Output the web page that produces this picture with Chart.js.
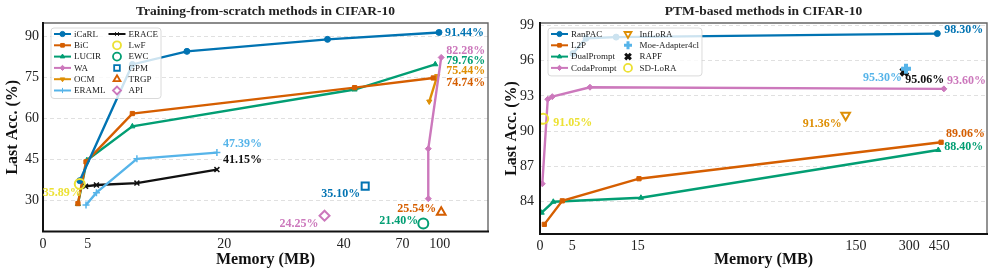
<!DOCTYPE html>
<html>
<head>
<meta charset="utf-8">
<script src="https://cdn.jsdelivr.net/npm/chart.js@4.4.1/dist/chart.umd.min.js"></script>
<style>
  body { margin: 0; background: #fff; }
  #wrap { position: relative; width: 997px; height: 277px; }
  canvas { position: absolute; top: 0; }
</style>
</head>
<body>
<div id="wrap">
  <canvas id="left" width="495" height="277" style="left:0"></canvas>
  <canvas id="right" width="502" height="277" style="left:495px"></canvas>
</div>
<script>
// tick labels
const xTicksL = [0, 5, 20, 40, 70, 100];
const yTicksL = [30, 45, 60, 75, 90];
const xTicksR = [0, 5, 15, 150, 300, 450];
const yTicksR = [84, 87, 90, 93, 96, 99];

// training-from-scratch methods: memory (MB) / last acc (%)
const icarlMem = [4.1, 9.9, 15.9, 37.3, 99.4];
const icarlAcc = [37.1, 79.7, 84.5, 88.9, 91.44];
const bicMem = [3.9, 4.8, 9.9, 45.6, 94.8];
const bicAcc = [28.7, 44.0, 61.7, 71.2, 74.74];
const lucirMem = [3.9, 4.9, 9.9, 45.6, 96.4];
const lucirAcc = [28.5, 44.6, 57.0, 70.5, 79.76];
const waMem = [90.8, 90.8, 101.2];
const waAcc = [30.5, 48.8, 82.28];
const ocmMem = [91.6, 98.0];
const ocmAcc = [66.1, 75.44];
const eramlMem = [4.8, 5.95, 10.4, 19.2];
const eramlAcc = [28.2, 32.7, 45.1, 47.39];
const eraceMem = [4.75, 5.95, 10.4, 19.2];
const eraceAcc = [35.0, 35.5, 36.2, 41.15];
const lwfMem = [4.1],   lwfAcc = [35.89];
const ewcMem = [86.8],  ewcAcc = [21.40];
const gpmMem = [51],    gpmAcc = [35.10];
const trgpMem = [101.2], trgpAcc = [25.54];
const apiMem = [36.8],  apiAcc = [24.25];

// PTM-based methods
const ranpacMem = [5.1, 7.1, 11.7, 440];
const ranpacAcc = [96.6, 97.9, 98.0, 98.30];
const l2pMem = [0.67, 3.45, 15.8, 459];
const l2pAcc = [82.08, 84.08, 85.96, 89.06];
const dualMem = [0.26, 2.06, 17, 445];
const dualAcc = [83.07, 84.0, 84.34, 88.40];
const codaMem = [0.36, 1.2, 1.9, 7.7, 473];
const codaAcc = [85.53, 92.72, 92.94, 93.74, 93.60];
const infloraMem = [143.6], infloraAcc = [91.36];
const moeMem = [290.7],     moeAcc = [95.30];
const rapfMem = [286],      rapfAcc = [95.06];
const sdloraMem = [0.5],    sdloraAcc = [91.05];

const serif = "'Liberation Serif', 'Times New Roman', serif";
const C = { blue: '#0173B2', verm: '#D55E00', green: '#029E73', pink: '#CC78BC',
            orange: '#DE8F05', light: '#56B4E9', black: '#111111', yellow: '#ECE133' };
Chart.defaults.font.family = serif;

// memory axis is stretched piecewise (tick value -> axis units)
const axisL = { br: [0, 5, 20, 40, 70, 100], pos: [0, 45, 182, 302, 361, 398.5], max: 447 };
const axisR = { br: [0, 5, 15, 150, 300, 450], pos: [0, 32.3, 97.7, 316, 369.3, 399.3], max: 447 };

function warp(v, ax) {
  const br = ax.br, pos = ax.pos;
  for (let i = 1; i < br.length; i++) {
    if (v <= br[i] || i === br.length - 1) {
      return pos[i - 1] + (v - br[i - 1]) * (pos[i] - pos[i - 1]) / (br[i] - br[i - 1]);
    }
  }
}

function lineSet(label, mem, acc, color, marker, ax, rot) {
  const thin = marker === 'cross' || marker === 'crossRot';
  return {
    label, data: mem.map((m, i) => ({ x: warp(m, ax), y: acc[i] })),
    borderColor: color, backgroundColor: color, borderWidth: 2.4,
    pointStyle: marker, pointRotation: rot || 0, pointRadius: thin ? 3.5 : 3,
    pointBorderWidth: thin ? 1.5 : 1,
    pointBackgroundColor: color, pointBorderColor: color,
    showLine: true, tension: 0, order: 2, isLine: true
  };
}
function dotSet(label, mem, acc, color, marker, ax, rot, bw) {
  return {
    label, data: mem.map((m, i) => ({ x: warp(m, ax), y: acc[i] })),
    borderColor: color, backgroundColor: color, showLine: false,
    pointStyle: marker, pointRotation: rot || 0, pointRadius: 5, pointBorderWidth: bw || 2,
    pointBackgroundColor: 'rgba(255,255,255,0)', pointBorderColor: color, order: 1, isLine: false
  };
}

const setsL = [
  lineSet('iCaRL', icarlMem, icarlAcc, C.blue, 'circle', axisL),
  lineSet('BiC', bicMem, bicAcc, C.verm, 'rect', axisL),
  lineSet('LUCIR', lucirMem, lucirAcc, C.green, 'triangle', axisL),
  lineSet('WA', waMem, waAcc, C.pink, 'rectRot', axisL),
  lineSet('OCM', ocmMem, ocmAcc, C.orange, 'triangle', axisL, 180),
  lineSet('ERAML', eramlMem, eramlAcc, C.light, 'cross', axisL),
  lineSet('ERACE', eraceMem, eraceAcc, C.black, 'crossRot', axisL),
  dotSet('LwF', lwfMem, lwfAcc, C.yellow, 'circle', axisL),
  dotSet('EWC', ewcMem, ewcAcc, C.green, 'circle', axisL),
  dotSet('GPM', gpmMem, gpmAcc, C.blue, 'rect', axisL),
  dotSet('TRGP', trgpMem, trgpAcc, C.verm, 'triangle', axisL),
  dotSet('API', apiMem, apiAcc, C.pink, 'rectRot', axisL)
];
const setsR = [
  lineSet('RanPAC', ranpacMem, ranpacAcc, C.blue, 'circle', axisR),
  lineSet('L2P', l2pMem, l2pAcc, C.verm, 'rect', axisR),
  lineSet('DualPrompt', dualMem, dualAcc, C.green, 'triangle', axisR),
  lineSet('CodaPrompt', codaMem, codaAcc, C.pink, 'rectRot', axisR),
  dotSet('InfLoRA', infloraMem, infloraAcc, C.orange, 'triangle', axisR, 180),
  dotSet('Moe-Adapter4cl', moeMem, moeAcc, C.light, 'cross', axisR, 0, 4),
  dotSet('RAPF', rapfMem, rapfAcc, C.black, 'crossRot', axisR, 0, 4),
  dotSet('SD-LoRA', sdloraMem, sdloraAcc, C.yellow, 'circle', axisR)
];

// value tags: [dx, dy, align] from the last point of each set
const tagsL = {
  'iCaRL': [6, 0, 'left'], 'WA': [5, -7, 'left'], 'LUCIR': [11, -3, 'left'], 'OCM': [9, -5, 'left'],
  'BiC': [13, 5, 'left'], 'ERAML': [6, -9, 'left'], 'ERACE': [6, -9.5, 'left'],
  'LwF': [2, 9, 'right'], 'GPM': [-5, 8, 'right'], 'API': [-6, 8, 'right'],
  'EWC': [-5, -3, 'right'], 'TRGP': [-5, -3, 'right']
};
const tagsR = {
  'RanPAC': [7, -4, 'left'], 'CodaPrompt': [3, -8, 'left'], 'L2P': [5, -8, 'left'],
  'DualPrompt': [6, -3, 'left'], 'InfLoRA': [-4, 9, 'right'], 'Moe-Adapter4cl': [-4, 9, 'right'],
  'RAPF': [1, 8, 'left'], 'SD-LoRA': [10, 4, 'left']
};

function marker(ctx, ds, x, y, r, bw) {
  ctx.save();
  ctx.fillStyle = ds.isLine ? ds.pointBackgroundColor : '#fff';
  ctx.strokeStyle = ds.pointBorderColor;
  ctx.lineWidth = bw;
  Chart.helpers.drawPoint(ctx, { pointStyle: ds.pointStyle, rotation: ds.pointRotation, radius: r, borderWidth: bw }, x, y);
  ctx.restore();
}

function decor(cfg) {
  return {
    id: 'decor_' + cfg.id,
    afterDatasetsDraw(chart) {
      const ctx = chart.ctx, a = chart.chartArea;
      // title
      ctx.save();
      ctx.fillStyle = '#222';
      ctx.font = 'bold 13.5px ' + serif;
      ctx.textAlign = 'center';
      ctx.textBaseline = 'middle';
      ctx.fillText(cfg.title, (a.left + a.right) / 2, 12);
      // frame
      ctx.lineWidth = 1.4;
      ctx.strokeStyle = '#666';
      ctx.beginPath();
      ctx.moveTo(a.left, a.top); ctx.lineTo(a.right, a.top); ctx.lineTo(a.right, a.bottom);
      ctx.stroke();
      ctx.lineWidth = 2;
      ctx.strokeStyle = '#111';
      ctx.beginPath();
      ctx.moveTo(a.left, a.top - 1); ctx.lineTo(a.left, a.bottom); ctx.lineTo(a.right + 1, a.bottom);
      ctx.stroke();

      // legend box
      const sets = chart.data.datasets;
      const rows = Math.ceil(sets.length / 2);
      ctx.font = '9px ' + serif;
      const rowH = 11.3, samp = 17;
      const colW = [0, 1].map(c => {
        let w = 0;
        for (let r = 0; r < rows; r++) {
          const ds = sets[c * rows + r];
          if (ds) w = Math.max(w, ctx.measureText(ds.label).width);
        }
        return samp + 3 + w;
      });
      const bx = a.left + 8, by = a.top + 5;
      const bw = 3 + colW[0] + 3 + colW[1] + 3, bh = 6 + rowH * (rows - 1) + 8;
      ctx.fillStyle = 'rgba(255,255,255,0.8)';
      ctx.strokeStyle = '#d0d0d0';
      ctx.lineWidth = 0.8;
      ctx.beginPath();
      ctx.roundRect(bx, by, bw, bh, 3);
      ctx.fill(); ctx.stroke();
      sets.forEach((ds, i) => {
        const c = Math.floor(i / rows), r = i % rows;
        const x0 = bx + 3 + (c ? colW[0] + 3 : 0), y0 = by + 6 + r * rowH;
        if (ds.isLine) {
          ctx.strokeStyle = ds.borderColor;
          ctx.lineWidth = 2;
          ctx.beginPath(); ctx.moveTo(x0, y0); ctx.lineTo(x0 + samp, y0); ctx.stroke();
          marker(ctx, ds, x0 + samp / 2, y0, 2.6, 1);
        } else {
          marker(ctx, ds, x0 + samp / 2, y0, 4, ds.pointBorderWidth > 2 ? 3 : 1.8);
        }
        ctx.fillStyle = '#222';
        ctx.textAlign = 'left';
        ctx.textBaseline = 'middle';
        ctx.fillText(ds.label, x0 + samp + 3, y0 + 0.5);
      });

      // value tags
      ctx.font = 'bold 12px ' + serif;
      ctx.textBaseline = 'middle';
      sets.forEach((ds, i) => {
        const t = cfg.tags[ds.label];
        if (!t) return;
        const pts = chart.getDatasetMeta(i).data;
        const p = pts[pts.length - 1];
        ctx.fillStyle = ds.borderColor;
        ctx.textAlign = t[2];
        ctx.fillText(ds.data[ds.data.length - 1].y.toFixed(2) + '%', p.x + t[0], p.y + t[1]);
      });
      ctx.restore();
    }
  };
}

function makeChart(cfg) {
  return new Chart(document.getElementById(cfg.id), {
    type: 'line',
    data: { datasets: cfg.datasets },
    options: {
      responsive: false, animation: false, events: [],
      layout: { padding: { top: 23, right: cfg.padRight, left: 0, bottom: 0 } },
      plugins: { legend: { display: false }, tooltip: { enabled: false }, title: { display: false } },
      scales: {
        x: {
          type: 'linear', min: 0, max: cfg.axis.max,
          afterBuildTicks: s => { s.ticks = cfg.xTicks.map(v => ({ value: warp(v, cfg.axis) })); },
          afterFit: s => { s.height = cfg.xH; },
          grid: { display: false, drawTicks: false }, border: { display: false },
          ticks: { autoSkip: false, maxRotation: 0, padding: 4, color: '#222',
                   font: { family: serif, size: 14 }, callback: (v, i) => cfg.xTicks[i] },
          title: { display: true, text: 'Memory (MB)', color: '#111',
                   font: { family: serif, size: 16, weight: 'bold' }, padding: { top: 0, bottom: 8 } }
        },
        y: {
          min: cfg.yMin, max: cfg.yMax,
          afterBuildTicks: s => { s.ticks = cfg.yTicks.map(v => ({ value: v })); },
          afterFit: s => { s.width = cfg.yW; },
          grid: { color: '#e0e0e0', lineWidth: 1, drawTicks: false }, border: { display: false, dash: [4, 3] },
          ticks: { padding: cfg.yPad, color: '#222', font: { family: serif, size: 14 } },
          title: { display: true, text: 'Last Acc. (%)', color: '#111',
                   font: { family: serif, size: 16, weight: 'bold' }, padding: { top: cfg.yTitlePad, bottom: 0 } }
        }
      }
    },
    plugins: [decor(cfg)]
  });
}

makeChart({ id: 'left', title: 'Training-from-scratch methods in CIFAR-10', datasets: setsL, tags: tagsL,
  axis: axisL, xTicks: xTicksL, yTicks: yTicksL, yMin: 18.45, yMax: 94.9,
  padRight: 5, xH: 45.5, yW: 43, yPad: 4, yTitlePad: 3 });
makeChart({ id: 'right', title: 'PTM-based methods in CIFAR-10', datasets: setsR, tags: tagsR,
  axis: axisR, xTicks: xTicksR, yTicks: yTicksR, yMin: 81.26, yMax: 99.2,
  padRight: 10, xH: 43, yW: 45, yPad: 6, yTitlePad: 7 });
</script>
</body>
</html>
